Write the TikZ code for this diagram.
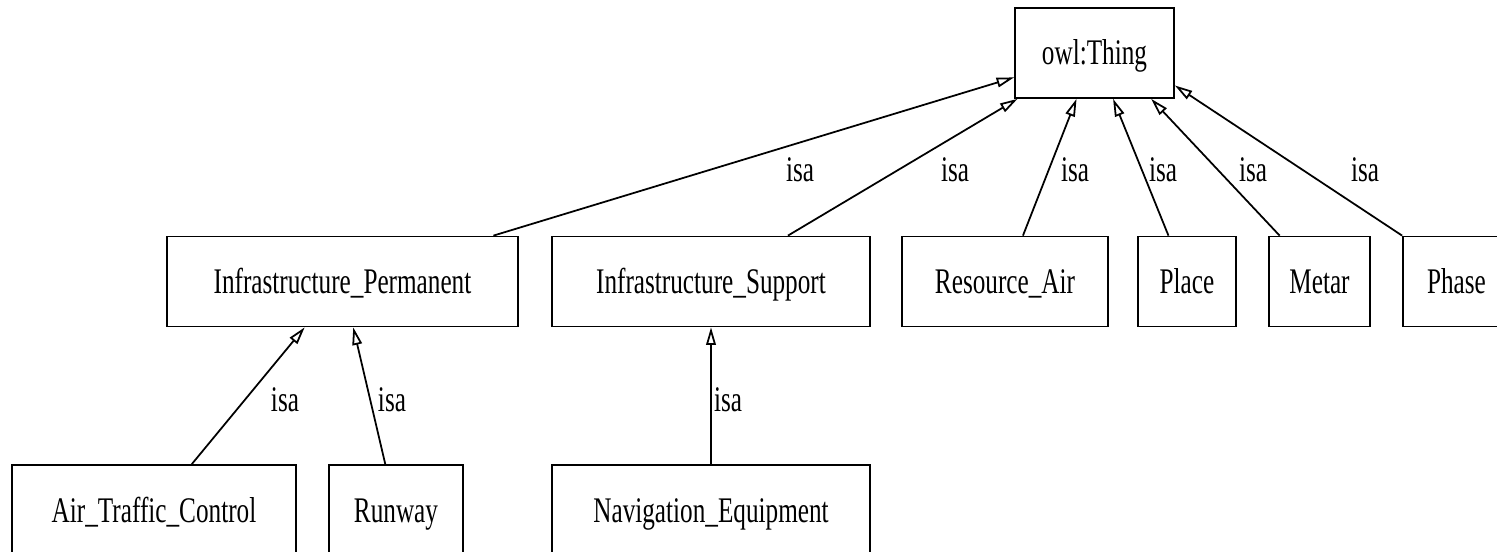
\documentclass[tikz,border=0pt]{standalone}
\usepackage{fontspec}
\setmainfont[FakeStretch=0.70]{Liberation Serif}
\usetikzlibrary{arrows.meta}

\tikzset{
    cls/.style={draw, line width=1pt, minimum height=1.8cm, inner sep=0pt,
        text height=0.48cm, text depth=0cm, font=\fontsize{20.5}{24}\selectfont},
    isaedge/.style={line width=1pt, -{Triangle[open, length=10pt, width=5.5pt]}},
    isalbl/.style={inner sep=0pt, font=\fontsize{20.5}{24}\selectfont}
}

\begin{document}
\begin{tikzpicture}
        \useasboundingbox (0,0) rectangle (29.94,11.02);

        \node[cls, minimum width=3.18cm] (thing) at (21.89,9.96) {owl:Thing};

        \node[cls, minimum width=7.02cm] (infperm) at (6.85,5.39) {Infrastructure\_Permanent};
        \node[cls, minimum width=6.36cm] (infsupp) at (14.22,5.39) {Infrastructure\_Support};
        \node[cls, minimum width=4.12cm] (resair) at (20.10,5.39) {Resource\_Air};
        \node[cls, minimum width=1.96cm] (place) at (23.74,5.39) {Place};
        \node[cls, minimum width=2.02cm] (metar) at (26.39,5.39) {Metar};
        \node[cls, minimum width=2.14cm] (phase) at (29.13,5.39) {Phase};

        \node[cls, minimum width=5.68cm] (atc) at (3.08,0.82) {Air\_Traffic\_Control};
        \node[cls, minimum width=2.68cm] (runway) at (7.92,0.82) {Runway};
        \node[cls, minimum width=6.36cm] (naveq) at (14.22,0.82) {Navigation\_Equipment};

        \draw[isaedge] (infperm) -- (thing);
        \draw[isaedge] (infsupp) -- (thing);
        \draw[isaedge] (resair) -- (thing);
        \draw[isaedge] (place) -- (thing);
        \draw[isaedge] (metar.131) -- (thing.-39);
        \draw[isaedge] (phase.north west) -- (thing.-22);
        \draw[isaedge] (atc) -- (infperm);
        \draw[isaedge] (runway) -- (infperm);
        \draw[isaedge] (naveq) -- (infsupp);

        \node[isalbl] (isa1) at (16.00,7.62) {isa};
        \node[isalbl] (isa2) at (19.10,7.62) {isa};
        \node[isalbl] (isa3) at (21.50,7.62) {isa};
        \node[isalbl] (isa4) at (23.26,7.62) {isa};
        \node[isalbl] (isa5) at (25.06,7.62) {isa};
        \node[isalbl] (isa6) at (27.30,7.62) {isa};
        \node[isalbl] (isa7) at (5.70,3.02) {isa};
        \node[isalbl] (isa8) at (7.84,3.02) {isa};
        \node[isalbl] (isa9) at (14.56,3.02) {isa};

    \end{tikzpicture}
\end{document}
